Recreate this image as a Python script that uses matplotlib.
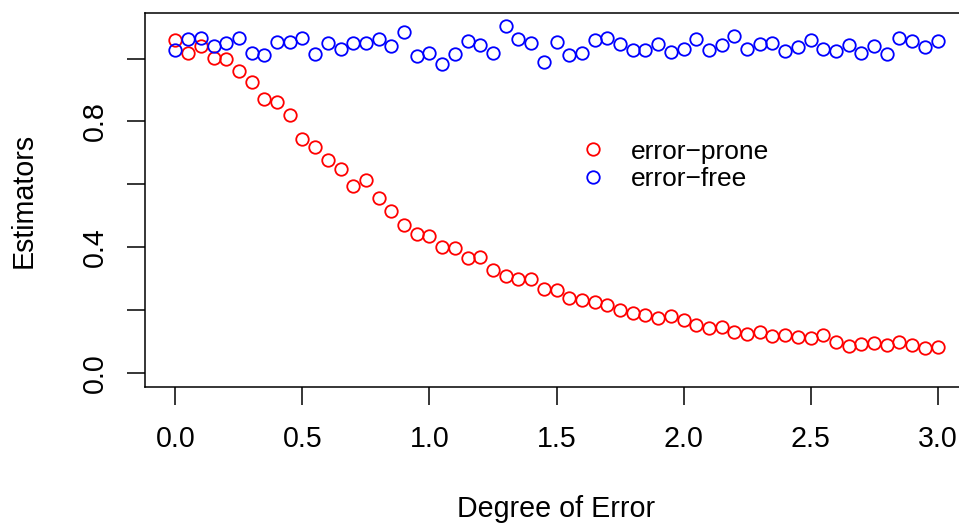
import numpy as np
import matplotlib
matplotlib.use("Agg")
import matplotlib.pyplot as plt
from matplotlib.lines import Line2D

# ---- data ----
degree = np.round(np.arange(61) * 0.05, 2)

error_prone = [1.059, 1.018, 1.040, 1.003, 0.998, 0.962, 0.924, 0.871, 0.861, 0.821,
               0.744, 0.720, 0.677, 0.649, 0.595, 0.613, 0.556, 0.515, 0.469, 0.442,
               0.436, 0.401, 0.396, 0.366, 0.370, 0.328, 0.307, 0.300, 0.300, 0.266,
               0.263, 0.239, 0.233, 0.227, 0.216, 0.201, 0.191, 0.185, 0.174, 0.180,
               0.169, 0.153, 0.143, 0.147, 0.131, 0.123, 0.129, 0.118, 0.120, 0.113,
               0.112, 0.120, 0.098, 0.087, 0.092, 0.094, 0.088, 0.099, 0.088, 0.080,
               0.082]

error_free = [1.027, 1.061, 1.066, 1.041, 1.050, 1.067, 1.018, 1.010, 1.052, 1.053,
              1.067, 1.014, 1.049, 1.032, 1.048, 1.050, 1.061, 1.040, 1.083, 1.008,
              1.018, 0.982, 1.013, 1.057, 1.044, 1.017, 1.105, 1.062, 1.051, 0.989,
              1.053, 1.011, 1.018, 1.059, 1.065, 1.046, 1.026, 1.026, 1.046, 1.021,
              1.029, 1.061, 1.028, 1.042, 1.071, 1.030, 1.046, 1.050, 1.023, 1.038,
              1.059, 1.031, 1.024, 1.044, 1.017, 1.041, 1.013, 1.064, 1.055, 1.037,
              1.056]

series_labels = ["error\u2212prone", "error\u2212free"]
series_colors = ["#FF0000", "#0000FF"]
x_ticks = [0.0, 0.5, 1.0, 1.5, 2.0, 2.5, 3.0]
y_ticks = [0.0, 0.2, 0.4, 0.6, 0.8, 1.0]
y_ticklabels = ["0.0", "", "0.4", "", "0.8", ""]

# ---- figure ----
W, H = 959, 523
DPI = 100
plt.rcParams['font.family'] = ['Liberation Sans', 'DejaVu Sans']
FS = 20.6
LFS = 19.0

fig = plt.figure(figsize=(W / DPI, H / DPI), dpi=DPI)
left, right, top, bottom = 145, 968, 13.3, 386.7
ax = fig.add_axes([left / W, 1 - bottom / H, (right - left) / W, (bottom - top) / H])

ms = 9.0
mew = 1.3
for vals, col in zip([error_prone, error_free], series_colors):
    ax.plot(degree, vals, linestyle='none', marker='o', markersize=ms,
            markerfacecolor='none', markeredgecolor=col, markeredgewidth=mew,
            clip_on=False)

# R-style axis extension (4%)
xr = 3.0 - 0.0
ax.set_xlim(0.0 - 0.04 * xr, 3.0 + 0.04 * xr)
yr = 1.1 - 0.0
ax.set_ylim(0.0 - 0.04 * yr, 1.1 + 0.04 * yr)

ax.set_xticks(x_ticks)
ax.set_xticklabels([f"{v:.1f}" for v in x_ticks])
ax.set_yticks(y_ticks)
ax.set_yticklabels(y_ticklabels, rotation=90, va='center')

tick_len = 17.6 * 72 / DPI
ax.tick_params(axis='both', direction='out', length=tick_len, width=1.1,
               labelsize=FS, colors='black')
ax.tick_params(axis='x', pad=14.8)
ax.tick_params(axis='y', pad=13.4)

for sp in ax.spines.values():
    sp.set_linewidth(1.1)
    sp.set_color('black')

ax.set_xlabel("Degree of Error", fontsize=FS, va='center')
ax.xaxis.set_label_coords(0.5, (bottom - 509) / (bottom - top))
ax.set_ylabel("Estimators", fontsize=FS, va='center')
ax.yaxis.set_label_coords((24 - left) / (right - left), 0.5)

handles = [Line2D([], [], linestyle='none', marker='o', markersize=ms,
                  markerfacecolor='none', markeredgecolor=c, markeredgewidth=mew)
           for c in series_colors]
fs_px = LFS * DPI / 72
leg = ax.legend(handles, series_labels, loc='upper left', frameon=False,
                fontsize=LFS, handlelength=1.0, handletextpad=(37.4 - 0.5 * fs_px) / fs_px,
                labelspacing=0.15, borderpad=0.0, borderaxespad=0.0,
                bbox_to_anchor=((593.3 - 0.5 * fs_px) / W, 1 - 139.5 / H),
                bbox_transform=fig.transFigure)

fig.savefig("out.png", dpi=DPI)
